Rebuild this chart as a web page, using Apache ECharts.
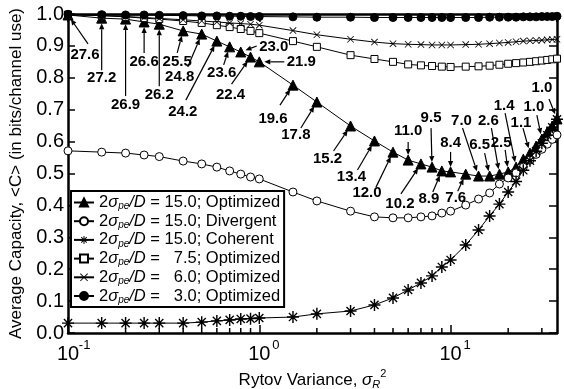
<!DOCTYPE html>
<html>
<head>
<meta charset="utf-8">
<script src="https://cdn.jsdelivr.net/npm/echarts@6/dist/echarts.min.js"></script>
<style>
html, body { margin: 0; padding: 0; background: #fff; }
#main { width: 564px; height: 389px; }
</style>
</head>
<body>
<div id="main"></div>
<script>
// Rytov variance (x) shared by all curves
var rytovVariance = [0.1, 0.15, 0.2, 0.25, 0.3, 0.4, 0.5, 0.6, 0.7, 0.8, 0.9, 1,
  1.5, 2, 3, 4, 5, 6, 7, 8, 9, 10, 12, 14, 16, 18, 20, 22, 24, 26, 28, 30, 32, 34, 36];

// average capacity, one array per curve
var capOpt150 = [0.997, 0.987, 0.984, 0.975, 0.968, 0.947, 0.937, 0.915, 0.897, 0.881, 0.865, 0.850,
  0.777, 0.724, 0.649, 0.602, 0.567, 0.542, 0.530, 0.520, 0.508, 0.505,
  0.498, 0.492, 0.492, 0.498, 0.505, 0.520, 0.545, 0.564, 0.586, 0.608, 0.630, 0.649, 0.671];
var capDiv150 = [0.571, 0.567, 0.564, 0.558, 0.553, 0.539, 0.530, 0.520, 0.508, 0.498, 0.489, 0.483,
  0.442, 0.414, 0.382, 0.364, 0.361, 0.361, 0.364, 0.367, 0.376, 0.382,
  0.401, 0.420, 0.439, 0.467, 0.486, 0.502, 0.520, 0.542, 0.560, 0.576, 0.592, 0.607, 0.621];
var capCoh150 = [0.031, 0.031, 0.031, 0.031, 0.031, 0.031, 0.034, 0.038, 0.041, 0.044, 0.045, 0.047,
  0.050, 0.060, 0.069, 0.088, 0.110, 0.135, 0.157, 0.179, 0.207, 0.229,
  0.276, 0.323, 0.367, 0.404, 0.442, 0.475, 0.510, 0.540, 0.570, 0.595, 0.620, 0.645, 0.670];
var capOpt75 = [0.998, 0.995, 0.991, 0.987, 0.984, 0.978, 0.972, 0.965, 0.959, 0.953, 0.947, 0.940,
  0.915, 0.897, 0.871, 0.859, 0.850, 0.842, 0.839, 0.837, 0.835, 0.834,
  0.835, 0.836, 0.838, 0.841, 0.844, 0.846, 0.848, 0.850, 0.852, 0.854, 0.856, 0.858, 0.860];
var capOpt60 = [0.999, 0.995, 0.992, 0.989, 0.986, 0.982, 0.978, 0.975, 0.972, 0.970, 0.968, 0.965,
  0.948, 0.935, 0.921, 0.912, 0.907, 0.905, 0.904, 0.903, 0.903, 0.903,
  0.904, 0.905, 0.907, 0.909, 0.911, 0.913, 0.915, 0.916, 0.917, 0.918, 0.919, 0.920, 0.921];
var capOpt30 = [0.999, 0.998, 0.997, 0.997, 0.996, 0.995, 0.994, 0.994, 0.993, 0.993, 0.992, 0.992,
  0.991, 0.990, 0.990, 0.989, 0.989, 0.989, 0.989, 0.989, 0.989, 0.989,
  0.989, 0.989, 0.990, 0.990, 0.990, 0.990, 0.991, 0.991, 0.991, 0.992, 0.992, 0.992, 0.993];

// legend parts
var legendRatio = ['15.0', '15.0', '15.0', '7.5', '6.0', '3.0'];
var legendMode = ['Optimized', 'Divergent', 'Coherent', 'Optimized', 'Optimized', 'Optimized'];

// numbers written next to the optimized 15.0 curve
var annotX = [0.1, 0.15, 0.2, 0.25, 0.3, 0.4, 0.5, 0.6, 0.7, 0.8, 0.9, 1,
  1.5, 2, 3, 4, 5, 6, 7, 8, 9, 10, 12, 14, 16, 18, 20, 22, 26, 30, 36];
var annotText = ['27.6', '27.2', '26.9', '26.6', '26.2', '25.5', '24.8', '24.2', '23.6', '23.0', '22.4', '21.9',
  '19.6', '17.8', '15.2', '13.4', '12.0', '11.0', '10.2', '9.5', '8.9', '8.4', '7.6', '7.0', '6.5',
  '2.6', '2.5', '1.4', '1.1', '1.0', '1.0'];

// x axis range and minor ticks (log scale)
var xMin = 0.1, xMax = 36;
var xMinorTicks = [0.2, 0.3, 0.4, 0.5, 0.6, 0.7, 0.8, 0.9, 2, 3, 4, 5, 6, 7, 8, 9, 20, 30];

// layout of the annotations: label dx,dy and arrow tail dx,dy (px from the point)
var annotLayout = [
  [17, 40, 20, 29], [0, 60, 0, 52], [0, 86, 0, 77], [0, 40, 0, 31], [0, 71, 0, 62],
  [-6, 31, -6, 22], [-22, 43, -14, 33], [-34, 71, -31, 59], [-8, 26, -6, 18], [33, -5, 16, -6],
  [-20, 38, -19, 27], [42, 0, 25, 0], [-20, 34, -13, 20], [-21, 33, -16, 26], [-23, 33, -17, 25],
  [-23, 36, -17, 29], [-26, 41, -17, 35], [0, -29, 0, -18], [-21, 40, -20, 30], [-1, -49, -1, -39],
  [-13, 28, -9, 21], [0, -29, 0, -20], [-10, 24, -8, 17], [-17, -55, -16, -48], [-10, -31, -5, -23],
  [-11, -53, -8, -46], [-7, -29, -3, -22], [-12, -61, -11, -54], [-9, -30, -7, -25], [-8, -32, -5, -24],
  [-15, -31, -8, -20]
];

var FONT = "'Liberation Sans', Arial, sans-serif";
// marker shapes drawn as thin filled bars
var asteriskPath = 'path://M0,4.4L10,4.4L10,5.6L0,5.6ZM4.4,0L5.6,0L5.6,10L4.4,10Z' +
  'M1.2,2L2,1.2L8.8,8L8,8.8ZM8,1.2L8.8,2L2,8.8L1.2,8Z';
var crossPath = 'path://M0,0.8L0.8,0L10,9.2L9.2,10ZM9.2,0L10,0.8L0.8,10L0,9.2Z';

// the x axis is a value axis over log10(x)
function lg(v) { return Math.log10(v); }

function pairs(ys) {
  return rytovVariance.map(function (x, i) { return [lg(x), ys[i]]; });
}

function makeLine(idx, ys, symbol, size, fill, border) {
  return {
    type: 'line',
    name: legendRatio[idx] + '; ' + legendMode[idx],
    data: pairs(ys),
    symbol: symbol,
    symbolSize: size,
    showAllSymbol: true,
    lineStyle: { color: '#000', width: 1 },
    itemStyle: { color: fill, borderColor: '#000', borderWidth: border },
    emphasis: { disabled: true },
    z: 3
  };
}

var annotData = annotX.map(function (x, i) {
  return [lg(x), capOpt150[rytovVariance.indexOf(x)], i];
});

function renderAnnot(params, api) {
  var i = api.value(2);
  var p = api.coord([api.value(0), api.value(1)]);
  var lay = annotLayout[i];
  var len = Math.sqrt(lay[2] * lay[2] + lay[3] * lay[3]);
  var ux = lay[2] / len, uy = lay[3] / len;
  var hx = p[0] + ux * 5, hy = p[1] + uy * 5;   // arrow tip
  var bx = hx + ux * 6, by = hy + uy * 6;       // base of the head
  return {
    type: 'group',
    children: [
      { type: 'line', shape: { x1: p[0] + lay[2], y1: p[1] + lay[3], x2: bx, y2: by },
        style: { stroke: '#000', lineWidth: 1.2 } },
      { type: 'polygon', shape: { points: [[hx, hy], [bx - uy * 2.6, by + ux * 2.6], [bx + uy * 2.6, by - ux * 2.6]] },
        style: { fill: '#000' } },
      { type: 'text', x: p[0] + lay[0], y: p[1] + lay[1],
        style: { text: annotText[i], fill: '#000', font: 'bold 15px ' + FONT, align: 'center', verticalAlign: 'middle' } }
    ]
  };
}

function renderMinor(params, api) {
  var v = api.value(0);
  var b = api.coord([v, 0]);
  var t = api.coord([v, 1]);
  return {
    type: 'group',
    children: [
      { type: 'line', shape: { x1: b[0], y1: b[1], x2: b[0], y2: b[1] - 5 }, style: { stroke: '#000', lineWidth: 1.5 } },
      { type: 'line', shape: { x1: t[0], y1: t[1], x2: t[0], y2: t[1] + 5 }, style: { stroke: '#000', lineWidth: 1.5 } }
    ]
  };
}

function isDecade(v) { return Math.abs(v - Math.round(v)) < 1e-9; }

var axisLineStyle = { show: true, onZero: false, lineStyle: { color: '#000', width: 2.5 } };
var xTick = {
  inside: true, length: 8, lineStyle: { color: '#000', width: 1.5 },
  interval: function (i, v) { return isDecade(v); }
};

var chart = echarts.init(document.getElementById('main'), null, { renderer: 'canvas' });
chart.setOption({
  animation: false,
  backgroundColor: '#fff',
  grid: { left: 68, right: 7, top: 14, bottom: 56, containLabel: false, outerBoundsMode: 'none' },
  xAxis: [{
    type: 'value', min: lg(xMin), max: lg(xMax), interval: 1, position: 'bottom',
    axisLine: axisLineStyle,
    axisTick: xTick,
    splitLine: { show: false },
    axisLabel: {
      margin: 6, color: '#000', fontFamily: FONT, showMaxLabel: false,
      formatter: function (v) {
        if (!isDecade(v)) return '';
        return '{p|}{b|10}{s|' + Math.round(v) + '}';
      },
      rich: {
        p: { width: 11 },
        b: { fontSize: 20, lineHeight: 30, fontFamily: FONT, color: '#000' },
        s: { fontSize: 13, lineHeight: 14, verticalAlign: 'top', width: 11, align: 'left', fontFamily: FONT, color: '#000' }
      }
    },
    name: '{t|Rytov Variance, }{g|σ}{sub|R}{sup|2}',
    nameLocation: 'middle', nameGap: 27,
    nameTextStyle: {
      rich: {
        t: { fontSize: 17, fontFamily: FONT, color: '#000', lineHeight: 22 },
        g: { fontSize: 17, fontFamily: FONT, fontStyle: 'italic', color: '#000', lineHeight: 22 },
        sub: { fontSize: 11, fontFamily: FONT, fontStyle: 'italic', color: '#000', verticalAlign: 'bottom', lineHeight: 12 },
        sup: { fontSize: 11, fontFamily: FONT, color: '#000', verticalAlign: 'top', lineHeight: 12 }
      }
    }
  }, {
    type: 'value', min: lg(xMin), max: lg(xMax), interval: 1, position: 'top',
    axisLine: axisLineStyle,
    axisTick: xTick,
    axisLabel: { show: false },
    splitLine: { show: false }
  }],
  yAxis: [{
    type: 'value', min: 0, max: 1, interval: 0.1, position: 'left',
    axisLine: axisLineStyle,
    axisTick: { inside: true, length: 7, lineStyle: { color: '#000', width: 1.5 } },
    splitLine: { show: false },
    axisLabel: {
      margin: 4, color: '#000', fontSize: 20, fontFamily: FONT,
      formatter: function (v) { return v.toFixed(1); }
    },
    name: 'Average Capacity, <C> (in bits/channel use)',
    nameLocation: 'middle', nameGap: 42,
    nameTextStyle: { fontSize: 17, fontFamily: FONT, color: '#000' }
  }, {
    type: 'value', min: 0, max: 1, interval: 0.1, position: 'right',
    axisLine: axisLineStyle,
    axisTick: { inside: true, length: 8, lineStyle: { color: '#000', width: 1.5 } },
    axisLabel: { show: false },
    splitLine: { show: false }
  }],
  legend: {
    orient: 'vertical', left: 71, top: 191,
    padding: [3, 4, 2, 2], itemGap: 1.2, itemWidth: 20, itemHeight: 10,
    borderColor: '#000', borderWidth: 2, backgroundColor: '#fff',
    selectedMode: false,
    data: legendRatio.map(function (r, i) { return r + '; ' + legendMode[i]; }),
    formatter: function (name) {
      var parts = name.split('; ');
      var num = parts[0].length < 4 ? '  ' + parts[0] : parts[0];
      return '{t|2}{i|σ}{sub|pe}{i|/D}{t| = ' + num + '; ' + parts[1] + '}';
    },
    textStyle: {
      color: '#000', fontFamily: FONT, fontSize: 16.5,
      rich: {
        t: { fontSize: 16.5, fontFamily: FONT, color: '#000', lineHeight: 18 },
        i: { fontSize: 16.5, fontFamily: FONT, fontStyle: 'italic', color: '#000', lineHeight: 18 },
        sub: { fontSize: 10, fontFamily: FONT, fontStyle: 'italic', color: '#000', verticalAlign: 'bottom', lineHeight: 12 }
      }
    }
  },
  series: [
    makeLine(0, capOpt150, 'triangle', 10, '#000', 1),
    makeLine(1, capDiv150, 'circle', 8, '#fff', 1),
    makeLine(2, capCoh150, asteriskPath, 12, '#000', 0),
    makeLine(3, capOpt75, 'rect', 7, '#fff', 1),
    makeLine(4, capOpt60, crossPath, 7, '#000', 0),
    makeLine(5, capOpt30, 'circle', 8, '#000', 1),
    {
      type: 'custom', name: 'minorTicks', data: xMinorTicks.map(function (v) { return [lg(v), 0]; }),
      renderItem: renderMinor, silent: true, z: 5, clip: false
    },
    {
      type: 'custom', name: 'annotations', data: annotData,
      renderItem: renderAnnot, silent: true, z: 6, clip: false
    }
  ]
});
</script>
</body>
</html>
